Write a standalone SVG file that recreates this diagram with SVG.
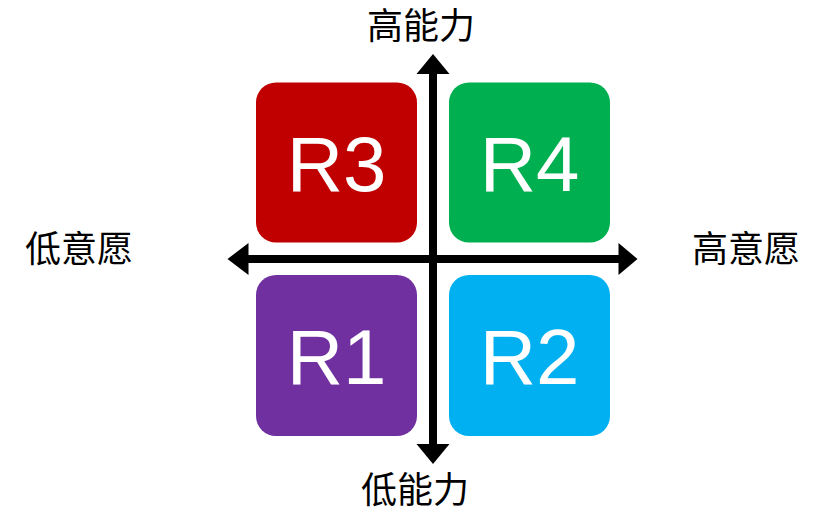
<svg xmlns="http://www.w3.org/2000/svg" width="833" height="512" viewBox="0 0 833 512">
<style>
.box{stroke:none}
.lbl{font-family:"Liberation Sans",Arial,sans-serif;font-size:78px;fill:#fff;text-anchor:middle}
.cn{font-family:"Noto Sans CJK SC",sans-serif;font-size:36px;fill:#000;text-anchor:middle}
.ax{stroke:#000;stroke-width:8;fill:none}
</style>
<rect width="833" height="512" fill="#fff"/>
<g id="connectors">
<line class="ax" x1="433" y1="72" x2="433" y2="446"/>
<polygon points="433,54 449.5,74 416.5,74" fill="#000"/>
<polygon points="433,464 449.5,444 416.5,444" fill="#000"/>
<line class="ax" x1="246" y1="259" x2="620" y2="259"/>
<polygon points="227.5,259 248.5,243 248.5,275" fill="#000"/>
<polygon points="637.5,259 618.5,243 618.5,275" fill="#000"/>
</g>
<g id="R3"><rect class="box" x="256" y="82.5" width="161" height="160" rx="20" fill="#C00000"/><text class="lbl" x="336.5" y="190.5">R3</text></g>
<g id="R4"><rect class="box" x="449" y="82.5" width="161" height="160" rx="20" fill="#00B050"/><text class="lbl" x="529.5" y="190.5">R4</text></g>
<g id="R1"><rect class="box" x="256" y="275" width="161" height="161" rx="20" fill="#7030A0"/><text class="lbl" x="336.5" y="383.5">R1</text></g>
<g id="R2"><rect class="box" x="449" y="275" width="161" height="161" rx="20" fill="#00B0F0"/><text class="lbl" x="529.5" y="383.5">R2</text></g>
<g id="labels">
<text class="cn" x="421" y="39">高能力</text>
<text class="cn" x="415" y="503">低能力</text>
<text class="cn" x="79" y="262">低意愿</text>
<text class="cn" x="746" y="262">高意愿</text>
</g>
</svg>
